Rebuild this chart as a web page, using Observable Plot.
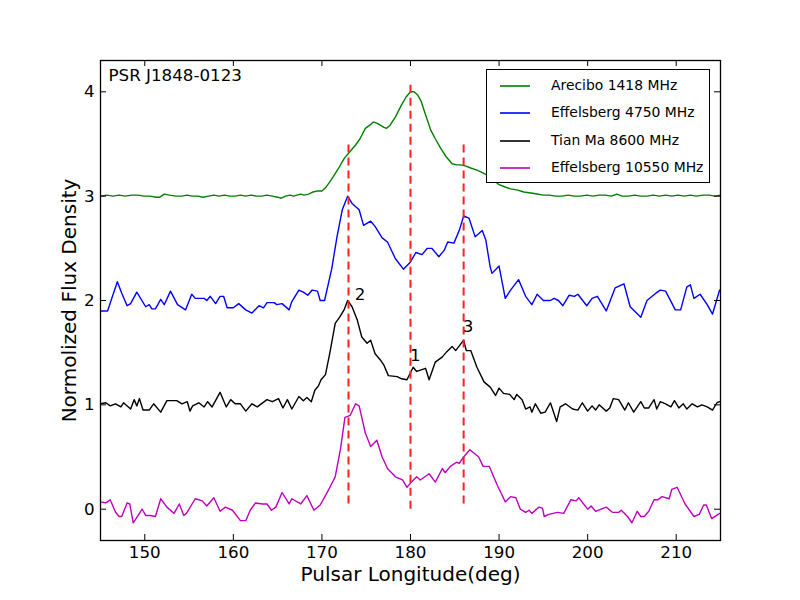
<!DOCTYPE html>
<html>
<head>
<meta charset="utf-8">
<script src="https://cdn.jsdelivr.net/npm/d3@7"></script>
<script src="https://cdn.jsdelivr.net/npm/@observablehq/plot@0.6"></script>
<style>
  html, body { margin: 0; padding: 0; background: #fff; }
  #wrap { position: relative; width: 800px; height: 600px; font-family: "DejaVu Sans", sans-serif; }
  #legend { position: absolute; left: 486px; top: 69px; width: 222px; height: 112px; border: 1.3px solid #000; background: #fff; box-sizing: content-box; }
  .item { position: absolute; left: 0; height: 20px; font-size: 13.9px; color: #000; white-space: nowrap; }
  .item svg { position: absolute; left: 12px; top: 0; }
  .item .lb { position: absolute; left: 64px; top: 1px; }
</style>
</head>
<body>
<div id="wrap"><div id="chart"></div><div id="legend"></div></div>
<script>
// ---- Data (pulsar longitude in deg, normalized flux density) ----
const seriesNames = ["Arecibo 1418 MHz", "Effelsberg 4750 MHz", "Tian Ma 8600 MHz", "Effelsberg 10550 MHz"];
const seriesColors = ["#008000", "#0000ff", "#000000", "#bf00bf"];

const arecibo1418 = [
 [145,3.00],[145.7,3.01],[146.4,3.00],[147.1,3.01],[147.8,3.00],[148.5,3.01],[149.2,3.01],[149.9,3.00],[150.6,3.00],[151.3,2.99],[151.7,2.99],[152.2,3.02],[152.8,3.01],[153.5,3.00],[154.2,3.00],[154.8,3.01],[155.3,3.00],[156.0,3.00],[156.6,2.99],[157.2,3.00],[157.8,3.01],[158.4,3.00],[159.0,3.01],[159.6,3.00],[160.2,3.00],[160.8,3.01],[161.4,3.00],[162.0,3.01],[162.6,3.00],[163.2,3.00],[163.8,3.01],[164.4,3.00],[165.0,2.99],[165.4,2.98],[165.9,3.00],[166.4,3.01],[166.8,3.00],[167.2,3.01],[167.6,3.02],[168.0,3.01],[168.5,3.02],[169.0,3.04],[169.5,3.05],[170.0,3.05],[170.4,3.08],[170.9,3.14],[171.3,3.19],[171.9,3.27],[172.5,3.36],[173.1,3.42],[173.8,3.49],[174.3,3.55],[174.9,3.65],[175.4,3.68],[175.8,3.71],[176.2,3.70],[176.6,3.68],[177.0,3.66],[177.3,3.65],[177.7,3.68],[178.3,3.76],[178.9,3.86],[179.5,3.95],[180.0,4.00],[180.4,4.00],[180.8,3.97],[181.2,3.91],[181.5,3.83],[181.9,3.73],[182.3,3.63],[182.8,3.55],[183.4,3.46],[184.0,3.38],[184.7,3.31],[185.2,3.30],[185.6,3.30],[186.2,3.29],[186.8,3.27],[187.5,3.25],[188.0,3.23],[188.7,3.20],[189.3,3.16],[190.0,3.11],[190.6,3.09],[191.3,3.07],[192.0,3.06],[192.8,3.04],[193.6,3.03],[194.3,3.02],[195.0,3.01],[195.7,3.01],[196.4,3.00],[197.1,3.00],[197.8,3.01],[198.5,3.00],[199.2,3.00],[199.9,3.01],[200.6,3.00],[201.3,3.01],[202.0,3.01],[202.7,3.00],[203.3,3.02],[203.9,3.00],[204.6,3.00],[205.3,3.01],[206.0,3.00],[206.7,3.00],[207.4,3.01],[208.1,3.00],[208.8,3.01],[209.5,3.00],[210.2,3.01],[210.9,3.00],[211.6,3.01],[212.3,3.00],[213.0,3.01],[213.7,3.01],[214.4,3.00],[215.0,3.01]
];

const effelsberg4750 = [
 [145.0,1.90],[145.8,1.90],[146.9,2.18],[147.4,2.07],[148.0,1.95],[148.4,1.97],[149.1,2.08],[150.1,1.94],[150.5,1.96],[150.8,1.92],[151.2,1.92],[151.8,2.01],[152.2,1.96],[152.9,2.09],[153.7,1.96],[154.6,1.91],[155.3,2.06],[155.7,2.02],[156.7,2.02],[157.0,2.00],[157.4,2.04],[158.0,1.97],[158.5,2.04],[158.9,2.04],[159.3,1.93],[160.0,1.93],[160.6,1.97],[161.4,1.91],[162.1,1.88],[162.9,1.95],[163.4,1.93],[163.8,1.98],[164.6,1.98],[164.9,1.96],[165.5,1.97],[166.3,1.91],[166.6,1.99],[167.4,2.10],[167.9,2.08],[168.4,2.05],[168.9,2.10],[169.5,2.09],[169.8,2.00],[170.3,2.00],[171.1,2.30],[171.7,2.61],[172.3,2.87],[172.9,3.00],[173.4,2.93],[174.2,2.87],[174.7,2.72],[175.5,2.76],[176.0,2.71],[176.8,2.60],[177.4,2.56],[178.3,2.40],[179.2,2.30],[180.0,2.37],[180.6,2.46],[181.3,2.44],[181.9,2.50],[182.4,2.50],[183.2,2.42],[183.8,2.48],[184.2,2.56],[184.9,2.55],[185.5,2.67],[186.0,2.81],[186.6,2.79],[187.3,2.61],[188.1,2.67],[188.5,2.58],[189.0,2.32],[189.2,2.26],[190.0,2.33],[190.7,2.02],[191.3,2.10],[192.2,2.20],[193.0,2.04],[193.7,1.96],[194.3,2.06],[195.0,2.00],[195.8,2.00],[196.2,2.02],[196.7,2.00],[197.2,1.95],[197.9,2.05],[198.5,2.04],[198.9,2.06],[199.9,1.95],[200.5,2.02],[201.1,2.04],[202.1,1.90],[203.1,2.12],[204.1,2.16],[204.8,1.94],[206.0,1.84],[206.7,2.00],[207.7,2.07],[208.2,2.10],[208.8,2.09],[209.9,1.91],[210.5,1.91],[211.2,2.13],[211.6,2.15],[212.0,2.02],[212.7,2.06],[213.5,1.96],[214.1,1.87],[214.9,2.10]
];

const tianma8600 = [
 [145.0,1.01],[145.6,1.02],[146.1,0.99],[146.7,1.01],[147.3,0.98],[147.6,1.02],[148.4,0.96],[148.8,1.05],[149.1,0.99],[149.4,1.06],[149.8,0.95],[150.5,0.95],[151.0,1.01],[151.8,0.93],[152.5,1.04],[153.6,1.04],[154.2,1.01],[154.8,1.03],[155.1,0.94],[155.4,0.99],[156.1,1.02],[156.7,0.98],[157.1,1.03],[157.6,0.98],[158.5,1.12],[159.2,0.98],[159.7,1.05],[160.2,1.01],[160.8,1.01],[161.4,0.94],[162.1,1.01],[162.7,0.98],[163.8,1.05],[164.4,1.03],[165.1,1.06],[165.6,0.97],[166.1,1.05],[166.6,0.96],[167.4,1.08],[167.9,1.04],[168.3,1.07],[168.8,1.03],[169.2,1.14],[169.6,1.18],[169.9,1.24],[170.4,1.29],[170.9,1.50],[171.5,1.78],[172.0,1.84],[172.5,1.91],[172.9,2.00],[173.4,1.94],[174.0,1.81],[174.5,1.65],[175.1,1.59],[175.5,1.62],[176.0,1.49],[176.6,1.43],[177.0,1.38],[177.5,1.28],[178.5,1.27],[179.0,1.25],[179.6,1.24],[180.3,1.36],[180.7,1.32],[181.7,1.35],[182.1,1.24],[182.8,1.41],[183.6,1.46],[184.1,1.51],[184.7,1.56],[185.1,1.52],[186.0,1.62],[186.3,1.52],[186.8,1.52],[187.5,1.36],[188.3,1.22],[189.0,1.17],[189.6,1.09],[190.0,1.16],[190.5,1.11],[191.2,1.10],[191.7,1.05],[192.0,1.10],[192.6,1.05],[193.0,0.96],[193.5,0.98],[193.7,0.93],[194.1,1.01],[194.7,0.92],[195.2,0.93],[195.8,1.02],[196.5,0.84],[196.9,0.98],[197.5,1.01],[198.3,0.96],[198.9,0.95],[199.4,1.02],[200.0,0.94],[200.5,0.99],[200.9,0.95],[201.3,1.00],[202.1,0.94],[202.5,0.97],[202.9,1.06],[203.5,1.05],[204.2,0.95],[204.6,1.02],[205.2,0.93],[206.0,1.03],[206.4,0.97],[206.9,0.97],[207.5,1.05],[207.8,0.96],[208.2,1.03],[208.8,1.01],[209.4,0.98],[209.8,1.04],[210.3,0.97],[210.8,1.01],[211.2,0.96],[211.8,1.01],[212.4,0.98],[212.9,1.00],[213.5,0.98],[214.1,0.95],[214.6,1.02],[214.9,1.03]
];

const effelsberg10550 = [
 [145.0,0.07],[145.6,0.06],[146.1,0.09],[146.7,-0.03],[147.1,-0.07],[147.4,-0.07],[148.0,0.06],[148.3,0.05],[148.7,-0.13],[149.7,0.00],[150.1,-0.06],[150.6,-0.06],[151.2,-0.07],[151.8,0.10],[152.5,0.02],[153.3,-0.04],[153.9,0.05],[154.4,-0.06],[154.7,-0.04],[155.7,0.10],[156.5,0.08],[157.0,0.03],[157.8,0.11],[158.5,-0.02],[159.1,0.02],[159.9,-0.01],[160.8,-0.11],[161.4,-0.11],[161.9,-0.01],[162.5,0.06],[163.3,0.05],[163.8,0.05],[164.3,-0.01],[164.8,0.02],[165.5,0.16],[166.3,0.05],[166.6,0.10],[167.6,0.05],[168.3,0.13],[169.1,-0.01],[169.8,0.04],[170.4,0.13],[170.9,0.21],[171.5,0.31],[172.1,0.58],[172.6,0.88],[173.2,0.90],[173.8,1.01],[174.2,0.99],[174.9,0.73],[175.5,0.60],[176.2,0.66],[176.8,0.50],[177.4,0.39],[178.3,0.31],[179.1,0.28],[179.6,0.21],[180.0,0.25],[180.7,0.31],[181.1,0.28],[182.1,0.34],[182.8,0.26],[183.6,0.39],[183.9,0.35],[184.5,0.41],[185.2,0.45],[185.5,0.44],[186.0,0.50],[186.7,0.57],[187.7,0.50],[188.2,0.41],[188.9,0.41],[189.8,0.23],[190.2,0.16],[190.7,0.07],[191.3,0.12],[191.9,0.11],[192.4,0.00],[193.0,-0.03],[193.4,-0.01],[193.7,-0.04],[194.5,0.02],[194.9,0.01],[195.1,-0.07],[195.6,-0.05],[196.6,-0.03],[197.3,-0.04],[198.1,0.09],[198.7,0.08],[199.0,0.11],[200.0,0.00],[200.4,0.03],[200.9,-0.02],[202.1,0.02],[202.8,-0.03],[203.5,-0.03],[203.8,-0.01],[204.5,-0.07],[205.0,-0.13],[205.6,-0.02],[206.0,-0.07],[206.4,-0.07],[206.9,-0.02],[207.5,0.09],[207.9,0.09],[208.4,0.12],[209.2,0.10],[209.5,0.19],[210.1,0.21],[211.0,0.05],[212.0,-0.07],[212.6,-0.05],[213.1,0.04],[213.4,0.04],[214.0,-0.09],[214.9,-0.04]
];

// component markers (red dashed lines)
const compLon  = [173, 180, 186];
const compLow  = [0.05, 0.0, 0.05];
const compHigh = [3.5, 4.1, 3.5];

// component annotations
const annLabels = ["2", "1", "3"];
const annLon    = [173.7, 179.95, 185.9];
const annVal    = [2.06, 1.47, 1.75];

const xTicks = [150, 160, 170, 180, 190, 200, 210];
const yTicks = [0, 1, 2, 3, 4];
const xDomain = [145, 215];
const yDomain = [-0.3, 4.3];
const titleText = "PSR J1848-0123";
const xLabel = "Pulsar Longitude(deg)";
const yLabel = "Normolized Flux Density";

// ---- build tables ----
const allSeries = [arecibo1418, effelsberg4750, tianma8600, effelsberg10550];
const lineData = allSeries.flatMap((s, i) => s.map(([lon, v]) => ({lon, v, name: seriesNames[i]})));
const comps = compLon.map((x, i) => ({x, y1: compLow[i], y2: compHigh[i]}));
const anns = annLabels.map((t, i) => ({t, x: annLon[i], y: annVal[i]}));

const fw = 800 - 100 - 80, fh = 600 - 60 - 60, tk = 6;

const chart = Plot.plot({
  width: 800, height: 600,
  marginLeft: 100, marginRight: 80, marginTop: 60, marginBottom: 60,
  style: {fontFamily: "DejaVu Sans", fontSize: "16.7px", background: "#fff", color: "#000"},
  x: {domain: xDomain},
  y: {domain: yDomain},
  color: {domain: seriesNames, range: seriesColors},
  marks: [
    Plot.axisX(xTicks, {tickSize: 0, tickPadding: 6, label: null, tickFormat: d => String(d)}),
    Plot.axisY(yTicks, {tickSize: 0, tickPadding: 6, label: null, tickFormat: d => String(d)}),
    Plot.line(lineData, {x: "lon", y: "v", z: "name", stroke: "name", strokeWidth: 1.4, curve: "linear"}),
    Plot.ruleX(comps, {x: "x", y1: "y1", y2: "y2", stroke: "#ff2020", strokeWidth: 2, strokeDasharray: "8,5"}),
    Plot.text(anns, {x: "x", y: "y", text: "t", textAnchor: "start", lineAnchor: "middle", fill: "#000"}),
    Plot.tickX(xTicks, {x: d => d, insetTop: fh - tk, stroke: "#000"}),
    Plot.tickX(xTicks, {x: d => d, insetBottom: fh - tk, stroke: "#000"}),
    Plot.tickY(yTicks, {y: d => d, insetRight: fw - tk, stroke: "#000"}),
    Plot.tickY(yTicks, {y: d => d, insetLeft: fw - tk, stroke: "#000"}),
    Plot.text([titleText], {frameAnchor: "top-left", text: d => d, dx: 8, dy: 9, lineAnchor: "top", textAnchor: "start", fill: "#000"}),
    Plot.text([xLabel], {frameAnchor: "bottom", text: d => d, dy: 40, lineAnchor: "bottom", textAnchor: "middle", fontSize: 20, fill: "#000"}),
    Plot.text([yLabel], {frameAnchor: "left", text: d => d, dx: -25, rotate: -90, lineAnchor: "bottom", textAnchor: "middle", fontSize: 20, fill: "#000"}),
    Plot.frame({stroke: "#000", strokeWidth: 1.3})
  ]
});
document.getElementById("chart").appendChild(chart);

// legend inside the axes (upper right)
const legend = document.getElementById("legend");
seriesNames.forEach((n, i) => {
  const it = document.createElement("div");
  it.className = "item";
  it.style.top = (6 + i * 27.3) + "px";
  it.innerHTML = `<svg width="32" height="20"><line x1="1" x2="31" y1="10" y2="10" stroke="${seriesColors[i]}" stroke-width="1.6"/></svg><span class="lb">${n}</span>`;
  legend.appendChild(it);
});
</script>
</body>
</html>
